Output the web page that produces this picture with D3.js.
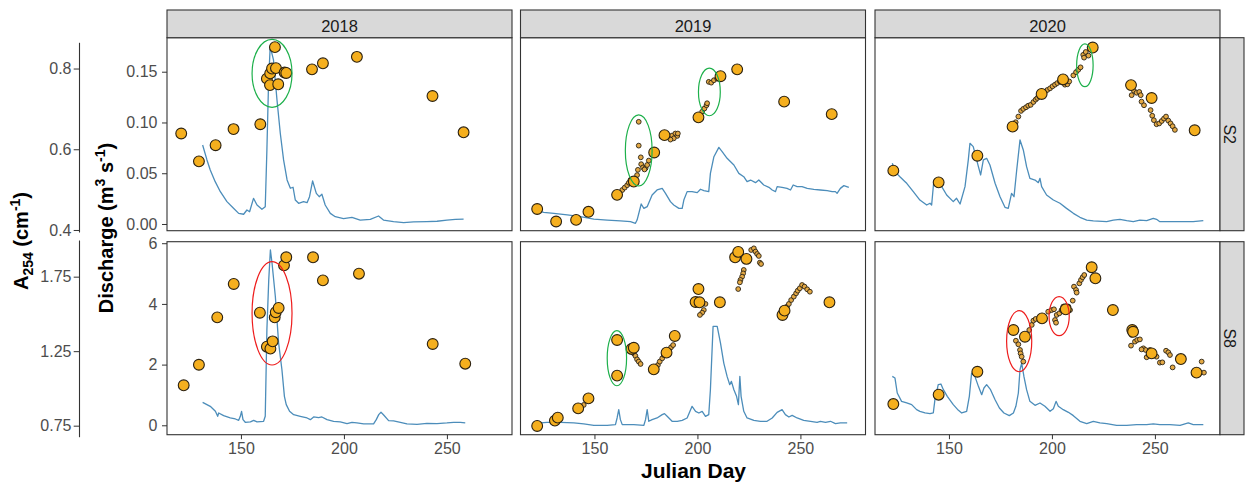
<!DOCTYPE html>
<html><head><meta charset="utf-8">
<script src="https://cdn.jsdelivr.net/npm/d3@7"></script>
<style>
body{margin:0;background:#fff}
svg{display:block;font-family:"Liberation Sans",Arial,sans-serif}
</style>
</head><body>
<svg id="chart" width="1247" height="487"></svg>
<script>
// ---------------- data ----------------
const years = ["2018", "2019", "2020"];
const sites = ["S2", "S8"];
const dayTicks = [150, 200, 250];
const dayDomain = [114.1, 281.6];
const qTicksS2 = [0, 0.05, 0.10, 0.15];
const qTicksS8 = [0, 2, 4, 6];
const qDomainS2 = [-0.0066, 0.1835];
const qDomainS8 = [-0.31, 6.05];
const aTicksS2 = [0.4, 0.6, 0.8];
const aTicksS8 = [0.75, 1.25, 1.75];
const aAxisS2 = [0.395, 0.865];
const aAxisS8 = [0.676, 1.996];

// discharge [day, m3/s]
const q_2018_S2 = [[131.4,0.0778],[133.5,0.0631],[135.1,0.0532],[137.5,0.0417],[140.0,0.0318],[143.2,0.0220],[146.4,0.0155],[148.9,0.0105],[151.3,0.0096],[152.9,0.0138],[154.2,0.0121],[156.1,0.0253],[157.8,0.0187],[160.2,0.0145],[161.8,0.0170],[162.6,0.0729],[163.4,0.1386],[164.2,0.1747],[165.8,0.1616],[167.5,0.1222],[169.1,0.0894],[170.7,0.0631],[172.4,0.0434],[174.0,0.0352],[175.3,0.0362],[176.4,0.0236],[178.0,0.0204],[180.4,0.0220],[182.1,0.0210],[183.3,0.0269],[184.8,0.0424],[186.6,0.0302],[188.0,0.0269],[189.3,0.0293],[190.9,0.0187],[193.4,0.0105],[195.8,0.0072],[199.8,0.0052],[203.9,0.0066],[207.9,0.0039],[212.8,0.0046],[216.8,0.0079],[219.2,0.0039],[224.1,0.0023],[229.0,0.0013],[233.8,0.0020],[240.3,0.0023],[245.2,0.0027],[250.0,0.0039],[254.1,0.0046],[258.1,0.0049]];
const q_2018_S8 = [[131.4,0.757],[135.1,0.625],[137.6,0.461],[138.7,0.296],[139.2,0.406],[141.6,0.318],[144.8,0.241],[147.3,0.208],[148.9,0.164],[149.7,0.296],[150.3,0.461],[151.0,0.186],[152.1,0.099],[154.6,0.110],[156.2,0.164],[157.8,0.110],[161.0,0.132],[161.8,0.296],[162.6,3.147],[163.5,4.792],[164.3,5.778],[165.1,5.340],[166.7,4.243],[168.3,2.708],[169.9,1.831],[171.1,0.954],[172.0,0.680],[173.6,0.461],[175.6,0.351],[178.8,0.296],[182.1,0.241],[183.7,0.186],[185.3,0.274],[187.7,0.252],[189.3,0.274],[191.8,0.186],[195.0,0.132],[198.2,0.110],[201.5,0.055],[203.9,0.099],[206.3,0.077],[209.6,0.044],[214.4,0.044],[215.7,0.186],[216.9,0.351],[218.0,0.428],[219.3,0.340],[221.7,0.154],[224.1,0.143],[227.4,0.099],[230.6,0.044],[235.5,0.033],[240.3,0.066],[245.2,0.055],[250.0,0.077],[253.3,0.099],[256.5,0.099],[258.9,0.077]];
const q_2019_S2 = [[122.2,0.0131],[125.4,0.0115],[130.3,0.0105],[136.8,0.0089],[143.2,0.0072],[149.7,0.0049],[156.2,0.0039],[162.6,0.0030],[167.5,0.0023],[169.9,0.0007],[170.7,0.0039],[172.7,0.0197],[174.0,0.0154],[175.6,0.0171],[178.0,0.0286],[180.4,0.0335],[182.9,0.0351],[184.5,0.0302],[186.9,0.0220],[188.5,0.0187],[191.0,0.0154],[192.6,0.0154],[193.4,0.0236],[195.0,0.0319],[197.4,0.0319],[199.9,0.0309],[201.5,0.0342],[203.1,0.0328],[205.5,0.0319],[206.3,0.0499],[208.0,0.0663],[210.4,0.0755],[212.0,0.0713],[214.4,0.0647],[217.7,0.0581],[220.1,0.0499],[222.5,0.0466],[224.1,0.0417],[225.8,0.0433],[228.2,0.0407],[229.8,0.0433],[232.2,0.0384],[234.7,0.0361],[236.3,0.0335],[237.9,0.0319],[238.7,0.0368],[241.1,0.0361],[243.5,0.0351],[245.2,0.0335],[246.5,0.0384],[248.4,0.0368],[250.8,0.0368],[253.3,0.0351],[256.5,0.0342],[259.7,0.0335],[263.0,0.0328],[265.4,0.0319],[267.0,0.0319],[267.8,0.0302],[269.4,0.0351],[271.1,0.0378],[273.5,0.0361]];
const q_2019_S8 = [[123.8,0.077],[127.0,0.099],[133.5,0.099],[140.0,0.077],[144.8,0.044],[149.7,0.0],[156.2,0.0],[160.2,0.022],[161.0,0.241],[161.8,0.515],[162.6,0.186],[163.5,0.022],[169.1,0.022],[174.0,0.0],[174.8,0.186],[175.6,0.515],[176.4,0.132],[178.0,0.186],[180.4,0.241],[182.9,0.351],[184.0,0.384],[185.3,0.296],[187.7,0.132],[190.2,0.132],[192.6,0.164],[195.0,0.241],[197.4,0.625],[199.1,0.461],[200.7,0.406],[202.3,0.461],[203.9,0.296],[205.5,0.351],[206.3,1.173],[207.6,3.257],[209.6,3.257],[211.2,2.708],[212.8,2.050],[214.4,1.612],[215.7,1.338],[216.5,1.447],[217.7,1.173],[219.0,0.954],[219.9,0.680],[220.6,1.612],[221.2,0.954],[222.5,0.461],[224.1,0.241],[227.4,0.164],[230.6,0.132],[233.8,0.132],[236.3,0.241],[238.7,0.428],[241.1,0.515],[242.7,0.351],[244.4,0.274],[246.0,0.329],[248.4,0.241],[251.6,0.164],[254.9,0.132],[258.1,0.099],[259.7,0.132],[262.2,0.099],[264.6,0.132],[267.0,0.055],[269.4,0.077],[272.7,0.077]];
const q_2020_S2 = [[122.5,0.0598],[123.8,0.0516],[126.2,0.0466],[128.7,0.0417],[129.5,0.0401],[132.7,0.0319],[135.9,0.0236],[139.2,0.0187],[140.8,0.0204],[141.6,0.0187],[142.7,0.0433],[144.0,0.0417],[146.5,0.0368],[148.9,0.0286],[152.1,0.0220],[153.7,0.0253],[155.4,0.0197],[157.8,0.0368],[159.4,0.0631],[160.2,0.0795],[161.8,0.0762],[164.3,0.0565],[165.4,0.0483],[166.7,0.0631],[168.3,0.0647],[169.9,0.0581],[172.4,0.0401],[174.8,0.0269],[177.2,0.0164],[178.8,0.0154],[180.4,0.0302],[181.6,0.0269],[182.9,0.0532],[184.5,0.0828],[186.1,0.0729],[187.7,0.0565],[189.3,0.0450],[191.8,0.0433],[193.4,0.0407],[194.2,0.0450],[195.0,0.0368],[197.4,0.0286],[200.7,0.0236],[203.9,0.0204],[207.1,0.0154],[210.4,0.0105],[213.6,0.0066],[216.9,0.0039],[220.1,0.0030],[226.6,0.0023],[229.8,0.0039],[233.0,0.0046],[236.3,0.0033],[239.5,0.0023],[242.7,0.0039],[246.0,0.0033],[249.2,0.0056],[250.8,0.0046],[252.4,0.0023],[255.7,0.0023],[262.2,0.0023],[268.6,0.0023],[273.5,0.0033]];
const q_2020_S8 = [[122.5,1.612],[123.8,1.557],[124.9,1.064],[127.0,0.789],[129.5,0.735],[131.9,0.680],[134.3,0.515],[135.9,0.461],[138.4,0.406],[140.8,0.384],[142.4,0.406],[143.2,0.844],[144.8,1.338],[146.1,1.360],[147.3,1.173],[149.2,0.954],[152.1,0.680],[154.6,0.493],[156.2,0.406],[158.6,0.461],[159.9,0.954],[161.0,1.721],[162.6,1.612],[164.3,1.283],[165.9,1.009],[167.0,1.228],[168.3,1.338],[170.2,1.173],[172.4,0.844],[174.5,0.570],[176.7,0.406],[179.3,0.318],[181.3,0.406],[182.5,0.625],[183.7,1.064],[184.5,1.831],[185.3,2.050],[186.4,1.612],[187.7,1.173],[189.3,0.789],[191.8,0.658],[194.2,0.735],[196.6,0.625],[199.1,0.461],[200.7,0.548],[202.0,0.789],[203.1,0.625],[205.5,0.515],[208.0,0.428],[210.4,0.318],[213.6,0.132],[216.9,0.055],[220.1,0.132],[223.3,0.077],[226.6,0.055],[231.4,0.0],[236.3,0.0],[241.1,0.022],[246.0,0.022],[249.2,0.044],[252.4,0.022],[257.3,0.022],[262.2,0.0],[266.2,0.077],[268.6,0.022],[273.5,0.022]];

// grab samples A254 [day, cm-1]
const grab_2018_S2 = [[121.0,0.639],[129.6,0.570],[137.7,0.610],[146.4,0.650],[159.4,0.662],[166.5,0.853],[162.6,0.775],[164.2,0.788],[165.1,0.800],[167.0,0.801],[164.1,0.759],[168.1,0.761],[171.2,0.790],[172.0,0.789],[184.5,0.798],[189.8,0.813],[206.3,0.829],[243.0,0.732],[258.1,0.642]];
const grab_2018_S8 = [[122.2,1.021],[129.6,1.159],[138.5,1.477],[146.5,1.701],[159.2,1.508],[162.6,1.280],[164.3,1.267],[165.4,1.316],[166.4,1.477],[166.9,1.511],[168.3,1.540],[170.9,1.826],[172.0,1.880],[185.0,1.880],[189.8,1.725],[207.3,1.770],[243.1,1.298],[258.9,1.166]];
const grab_2019_S2 = [[122.2,0.452],[131.4,0.421],[141.1,0.425],[147.1,0.445],[161.0,0.487],[169.1,0.520],[179.0,0.592],[184.0,0.635],[200.5,0.679],[211.2,0.781],[219.3,0.798],[242.1,0.718],[265.2,0.687]];
const grab_2019_S8 = [[122.2,0.748],[130.8,0.784],[132.2,0.804],[142.1,0.866],[147.1,0.933],[161.0,1.086],[161.0,1.325],[168.0,1.265],[169.1,1.273],[178.8,1.128],[185.0,1.240],[189.0,1.352],[199.1,1.580],[200.5,1.667],[201.0,1.578],[210.9,1.578],[218.3,1.880],[219.8,1.916],[223.8,1.869],[241.3,1.493],[242.3,1.522],[264.1,1.578]];
const grab_2020_S2 = [[123.0,0.547],[145.0,0.518],[163.8,0.584],[180.9,0.656],[195.0,0.737],[205.4,0.773],[219.8,0.852],[238.4,0.759],[248.4,0.727],[269.3,0.647]];
const grab_2020_S8 = [[123.0,0.895],[145.0,0.958],[163.8,1.112],[181.3,1.392],[186.9,1.347],[195.2,1.470],[206.7,1.531],[219.3,1.813],[221.1,1.739],[229.6,1.526],[239.0,1.392],[239.4,1.380],[248.4,1.235],[262.6,1.197],[270.2,1.106]];

// sensor A254 [day, cm-1]
const sensor_2018_S2 = [];
const sensor_2018_S8 = [];
const sensor_2019_S2 = [[163.5,0.499],[164.7,0.505],[165.9,0.511],[166.7,0.517],[167.5,0.524],[171.5,0.668],[171.5,0.609],[172.5,0.580],[172.7,0.563],[173.6,0.555],[174.8,0.553],[175.6,0.561],[176.4,0.572],[174.3,0.550],[171.1,0.549],[170.7,0.536],[186.1,0.629],[187.7,0.634],[189.3,0.639],[190.2,0.633],[188.5,0.627],[186.9,0.624],[190.5,0.639],[202.3,0.693],[203.4,0.701],[204.4,0.709],[204.7,0.714],[205.5,0.767],[206.7,0.765],[208.0,0.771],[209.6,0.775]];
const sensor_2019_S8 = [[144.8,0.889],[169.1,1.235],[169.9,1.218],[170.7,1.195],[171.5,1.180],[172.4,1.164],[180.8,1.157],[181.7,1.180],[182.9,1.202],[183.7,1.224],[186.1,1.258],[187.2,1.276],[188.2,1.291],[203.9,1.567],[203.1,1.526],[202.3,1.508],[201.2,1.493],[226.1,1.929],[227.4,1.940],[228.2,1.918],[229.0,1.902],[229.8,1.889],[230.3,1.844],[230.9,1.835],[222.5,1.795],[222.2,1.772],[221.7,1.750],[220.9,1.728],[220.6,1.712],[219.8,1.667],[243.5,1.549],[244.4,1.567],[245.5,1.593],[246.8,1.616],[247.9,1.638],[248.7,1.656],[249.7,1.672],[250.8,1.694],[252.0,1.683],[253.3,1.665],[254.6,1.649]];
const sensor_2020_S2 = [[182.4,0.667],[183.7,0.681],[185.0,0.695],[186.1,0.700],[187.4,0.704],[188.5,0.708],[189.7,0.710],[191.0,0.717],[192.1,0.723],[192.9,0.727],[193.9,0.731],[196.6,0.742],[197.8,0.747],[199.1,0.751],[200.3,0.756],[201.5,0.760],[202.6,0.764],[203.9,0.768],[206.3,0.760],[207.5,0.761],[208.4,0.768],[210.4,0.783],[211.7,0.791],[212.8,0.797],[213.9,0.803],[215.2,0.834],[216.4,0.841],[217.7,0.832],[215.6,0.827],[239.8,0.745],[241.1,0.740],[242.4,0.742],[243.1,0.734],[238.7,0.734],[243.5,0.718],[244.7,0.709],[247.9,0.697],[248.7,0.683],[249.5,0.672],[250.8,0.662],[252.1,0.664],[253.3,0.670],[254.4,0.676],[255.4,0.681],[256.5,0.671],[257.6,0.664],[258.6,0.657],[259.7,0.648]];
const sensor_2020_S8 = [[182.5,1.320],[183.7,1.296],[184.5,1.258],[184.8,1.235],[185.3,1.213],[186.1,1.180],[189.0,1.392],[190.2,1.426],[191.0,1.455],[192.1,1.466],[198.2,1.515],[199.9,1.526],[201.0,1.531],[202.3,1.493],[201.5,1.459],[202.0,1.441],[203.6,1.504],[204.7,1.526],[205.5,1.549],[208.0,1.549],[208.8,1.526],[210.1,1.589],[210.7,1.683],[211.7,1.661],[212.0,1.643],[213.3,1.705],[214.1,1.728],[214.9,1.746],[215.7,1.761],[238.7,1.359],[238.4,1.287],[240.3,1.314],[241.4,1.325],[242.7,1.329],[244.4,1.269],[245.5,1.258],[243.5,1.262],[246.0,1.209],[247.6,1.258],[250.8,1.213],[252.4,1.173],[253.6,1.175],[255.4,1.253],[256.5,1.242],[257.3,1.224],[258.6,1.141],[272.7,1.180],[273.8,1.106]];

// highlighted events: centre (day, A254) and half-widths (days, A254)
const events = [
  {year:"2018", site:"S2", day:165.1, a:0.788, rDay:9.7, rA:0.084, kind:"green"},
  {year:"2018", site:"S8", day:165.1, a:1.504, rDay:9.7, rA:0.347, kind:"red"},
  {year:"2019", site:"S2", day:171.5, a:0.597, rDay:6.5, rA:0.088, kind:"green"},
  {year:"2019", site:"S2", day:205.8, a:0.742, rDay:5.3, rA:0.059, kind:"green"},
  {year:"2019", site:"S8", day:160.9, a:1.203, rDay:4.7, rA:0.185, kind:"green"},
  {year:"2020", site:"S2", day:216.0, a:0.808, rDay:4.0, rA:0.053, kind:"green"},
  {year:"2020", site:"S8", day:184.1, a:1.317, rDay:6.1, rA:0.205, kind:"red"},
  {year:"2020", site:"S8", day:203.5, a:1.485, rDay:4.9, rA:0.131, kind:"red"}
];

const qData = {"2018":{S2:q_2018_S2,S8:q_2018_S8},"2019":{S2:q_2019_S2,S8:q_2019_S8},"2020":{S2:q_2020_S2,S8:q_2020_S8}};
const grabData = {"2018":{S2:grab_2018_S2,S8:grab_2018_S8},"2019":{S2:grab_2019_S2,S8:grab_2019_S8},"2020":{S2:grab_2020_S2,S8:grab_2020_S8}};
const sensorData = {"2018":{S2:sensor_2018_S2,S8:sensor_2018_S8},"2019":{S2:sensor_2019_S2,S8:sensor_2019_S8},"2020":{S2:sensor_2020_S2,S8:sensor_2020_S8}};
const siteCfg = {
  S2:{qDomain:qDomainS2, qTicks:qTicksS2, qFmt:d3.format(".2f"), aAxis:aAxisS2, aTicks:aTicksS2, aFmt:d3.format(".1f")},
  S8:{qDomain:qDomainS8, qTicks:qTicksS8, qFmt:d3.format("d"), aAxis:aAxisS8, aTicks:aTicksS8, aFmt:d3.format(".2f")}
};

// ---------------- layout ----------------
const colLeft = [167, 520.5, 875];
const panelW = 345;
const rowTop = [37.7, 241.7];
const panelH = 193;
const aAxisRange = [[232, 42.3], [436.7, 240]];
const stripTop = 10;
const stripRight = 1244;
const orange = "#F5AF1E";
const lineCol = "#4C8DBA";
const tickGrey = "#4d4d4d";
const frame = "#333333";
const eventCol = {green:"#1db04b", red:"#ee1c1c"};

const svg = d3.select("#chart");
svg.append("rect").attr("width",1247).attr("height",487).attr("fill","#fff");

sites.forEach((site, r) => {
  const cfg = siteCfg[site];
  const top = rowTop[r], bottom = top + panelH;
  const yQ = d3.scaleLinear().domain(cfg.qDomain).range([bottom, top]);
  const yA = d3.scaleLinear().domain(cfg.aAxis).range(aAxisRange[r]);

  years.forEach((year, c) => {
    const left = colLeft[c];
    const x = d3.scaleLinear().domain(dayDomain).range([left, left + panelW]);
    const g = svg.append("g");
    g.append("rect").attr("x",left).attr("y",top).attr("width",panelW).attr("height",panelH).attr("fill","#fff");

    g.append("path").datum(qData[year][site])
      .attr("fill","none").attr("stroke",lineCol).attr("stroke-width",1.3)
      .attr("stroke-linejoin","round")
      .attr("d", d3.line().x(d => x(d[0])).y(d => yQ(d[1])));

    g.selectAll("circle.s").data(sensorData[year][site]).join("circle")
      .attr("class","s").attr("cx",d=>x(d[0])).attr("cy",d=>yA(d[1])).attr("r",2.4)
      .attr("fill","#E3A844").attr("stroke","#2a2214").attr("stroke-width",0.9);

    g.selectAll("circle.g").data(grabData[year][site]).join("circle")
      .attr("class","g").attr("cx",d=>x(d[0])).attr("cy",d=>yA(d[1])).attr("r",5.4)
      .attr("fill",orange).attr("stroke","#2b2110").attr("stroke-width",1.1);

    g.selectAll("ellipse").data(events.filter(e => e.year===year && e.site===site)).join("ellipse")
      .attr("cx",d=>x(d.day)).attr("cy",d=>yA(d.a))
      .attr("rx",d=>x(d.day+d.rDay)-x(d.day)).attr("ry",d=>Math.abs(yA(d.a+d.rA)-yA(d.a)))
      .attr("fill","none").attr("stroke",d=>eventCol[d.kind]).attr("stroke-width",1.2);

    g.append("rect").attr("x",left).attr("y",top).attr("width",panelW).attr("height",panelH)
      .attr("fill","none").attr("stroke",frame).attr("stroke-width",1.1);

    // top strips
    if (r === 0) {
      svg.append("rect").attr("x",left).attr("y",stripTop).attr("width",panelW).attr("height",top-stripTop)
        .attr("fill","#d9d9d9").attr("stroke",frame).attr("stroke-width",1.1);
      svg.append("text").attr("x",left+panelW/2).attr("y",32).attr("text-anchor","middle")
        .attr("font-size",16.5).attr("fill","#1a1a1a").text(year);
    }
    // bottom axis
    if (r === sites.length - 1) {
      const ax = svg.append("g").attr("transform",`translate(0,${bottom})`)
        .call(d3.axisBottom(x).tickValues(dayTicks).tickSize(4.5).tickPadding(3).tickFormat(d3.format("d")));
      ax.select(".domain").remove();
      ax.selectAll("line").attr("stroke",frame);
      ax.selectAll("text").attr("font-size",16).attr("fill",tickGrey).attr("font-family","Liberation Sans, Arial, sans-serif");
    }
    // discharge axis
    if (c === 0) {
      const ay = svg.append("g").attr("transform",`translate(${left},0)`)
        .call(d3.axisLeft(yQ).tickValues(cfg.qTicks).tickSize(5).tickPadding(4.5).tickFormat(cfg.qFmt));
      ay.select(".domain").remove();
      ay.selectAll("line").attr("stroke",frame);
      ay.selectAll("text").attr("font-size",16).attr("fill",tickGrey).attr("font-family","Liberation Sans, Arial, sans-serif");
    }
  });

  // right strip
  svg.append("rect").attr("x",colLeft[2]+panelW).attr("y",top).attr("width",stripRight-colLeft[2]-panelW).attr("height",panelH)
    .attr("fill","#d9d9d9").attr("stroke",frame).attr("stroke-width",1.1);
  svg.append("text").attr("transform",`translate(${colLeft[2]+panelW+9},${top+panelH/2}) rotate(90)`)
    .attr("text-anchor","middle").attr("dominant-baseline","central")
    .attr("font-size",16).attr("fill","#1a1a1a").text(site);

  // outer A254 axis
  const oa = svg.append("g").attr("transform","translate(79,0)")
    .call(d3.axisLeft(yA).tickValues(cfg.aTicks).tickSize(5.3).tickPadding(2.2).tickSizeOuter(0).tickFormat(cfg.aFmt));
  oa.select(".domain").attr("stroke",frame).attr("stroke-width",1.1);
  oa.selectAll("line").attr("stroke",frame);
  oa.selectAll("text").attr("font-size",16).attr("fill",tickGrey).attr("font-family","Liberation Sans, Arial, sans-serif");
});

// axis titles
const t1 = svg.append("text").attr("transform","translate(28,241) rotate(-90)")
  .attr("text-anchor","middle").attr("font-size",20).attr("font-weight","bold").attr("fill","#000");
t1.append("tspan").text("A");
t1.append("tspan").attr("dy",5).attr("font-size",14).text("254");
t1.append("tspan").attr("dy",-5).text(" (cm");
t1.append("tspan").attr("dy",-8).attr("font-size",14).text("-1");
t1.append("tspan").attr("dy",8).text(")");

const t2 = svg.append("text").attr("transform","translate(113,228) rotate(-90)")
  .attr("text-anchor","middle").attr("font-size",20).attr("font-weight","bold").attr("fill","#000");
t2.append("tspan").text("Discharge (m");
t2.append("tspan").attr("dy",-8).attr("font-size",14).text("3");
t2.append("tspan").attr("dy",8).text(" s");
t2.append("tspan").attr("dy",-8).attr("font-size",14).text("-1");
t2.append("tspan").attr("dy",8).text(")");

svg.append("text").attr("x",693.5).attr("y",478).attr("text-anchor","middle")
  .attr("font-size",21).attr("font-weight","bold").attr("fill","#000").text("Julian Day");
</script>
</body></html>
